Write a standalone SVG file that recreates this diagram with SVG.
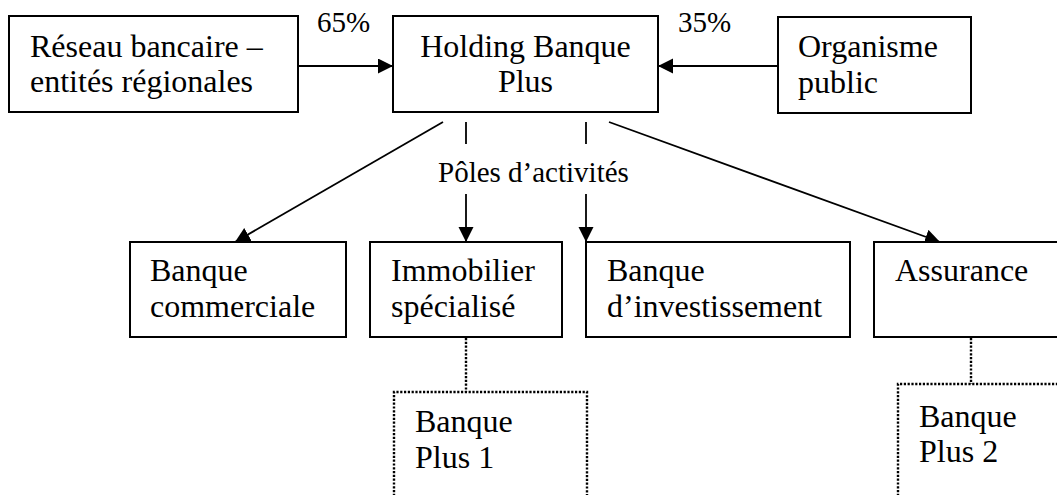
<svg xmlns="http://www.w3.org/2000/svg" width="1057" height="495" viewBox="0 0 1057 495">
<style>
.box{fill:#fff;stroke:#000;stroke-width:2}
.dot{fill:none;stroke:#000;stroke-width:2.4;stroke-dasharray:2.2 1.6}
.ln{fill:none;stroke:#000;stroke-width:1.8}
text{font-family:"Liberation Serif","Times New Roman",serif;font-size:32px;fill:#000}
.sm{font-size:29px}
</style>
<defs>
<marker id="ah" markerWidth="16" markerHeight="16" refX="15" refY="7.5" orient="auto" markerUnits="userSpaceOnUse">
<path d="M0,0 L15,7.5 L0,15 z" fill="#000"/>
</marker>
</defs>
<rect width="1057" height="495" fill="#fff"/>
<g id="connectors">
<line class="ln" x1="298" y1="66" x2="393" y2="66" marker-end="url(#ah)"/>
<line class="ln" x1="778" y1="66" x2="658" y2="66" marker-end="url(#ah)"/>
<line class="ln" x1="443" y1="122" x2="235" y2="242" marker-end="url(#ah)"/>
<line class="ln" x1="609" y1="122" x2="940" y2="242" marker-end="url(#ah)"/>
<line class="ln" x1="466" y1="122" x2="466" y2="144"/>
<line class="ln" x1="466" y1="194" x2="466" y2="242" marker-end="url(#ah)"/>
<line class="ln" x1="586" y1="122" x2="586" y2="144"/>
<line class="ln" x1="586" y1="194" x2="586" y2="242" marker-end="url(#ah)"/>
<line class="dot" x1="466" y1="338" x2="466" y2="392"/>
<line class="dot" x1="971" y1="338" x2="971" y2="384"/>
<text class="sm" x="317" y="32">65%</text>
<text class="sm" x="678" y="32">35%</text>
<text class="sm" x="438" y="182">Pôles d’activités</text>
</g>
<g id="reseau">
<rect class="box" x="9" y="16" width="289" height="96"/>
<text x="30" y="57">Réseau bancaire –</text>
<text x="30" y="92">entités régionales</text>
</g>
<g id="holding">
<rect class="box" x="393" y="16" width="265" height="96"/>
<text x="525.5" y="57" text-anchor="middle">Holding Banque</text>
<text x="525.5" y="92" text-anchor="middle">Plus</text>
</g>
<g id="organisme">
<rect class="box" x="778" y="17" width="193" height="96"/>
<text x="798" y="57">Organisme</text>
<text x="798" y="93">public</text>
</g>
<g id="banque-commerciale">
<rect class="box" x="130" y="242" width="216" height="95"/>
<text x="150" y="281">Banque</text>
<text x="150" y="317">commerciale</text>
</g>
<g id="immobilier">
<rect class="box" x="370" y="242" width="192" height="95"/>
<text x="391" y="281">Immobilier</text>
<text x="391" y="317">spécialisé</text>
</g>
<g id="banque-investissement">
<rect class="box" x="586" y="242" width="264" height="95"/>
<text x="607" y="281">Banque</text>
<text x="607" y="317">d’investissement</text>
</g>
<g id="assurance">
<rect class="box" x="874" y="242" width="200" height="95"/>
<text x="895" y="281">Assurance</text>
</g>
<g id="banque-plus-1">
<path class="dot" d="M394,496 V392 H587 V496"/>
<text x="415" y="432">Banque</text>
<text x="415" y="468">Plus 1</text>
</g>
<g id="banque-plus-2">
<path class="dot" d="M898,496 V384 H1060"/>
<text x="919" y="427">Banque</text>
<text x="919" y="462">Plus 2</text>
</g>
</svg>
